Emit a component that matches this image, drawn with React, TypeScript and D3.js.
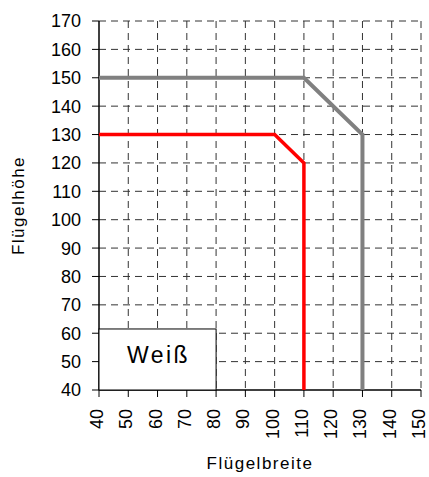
import React from "react";
import * as d3 from "d3";

const xTicks = [40, 50, 60, 70, 80, 90, 100, 110, 120, 130, 140, 150];
const yTicks = [40, 50, 60, 70, 80, 90, 100, 110, 120, 130, 140, 150, 160, 170];
const redX = [40, 100, 110, 110];
const redY = [130, 130, 120, 40];
const grayX = [40, 110, 130, 130];
const grayY = [150, 150, 130, 40];
const legendLabel = "Weiß";
const legendX = [40, 80];
const legendY = [40, 61.5];
const xTitle = "Flügelbreite";
const yTitle = "Flügelhöhe";

const W = 429;
const H = 477;
const L = 99, R = 421, T = 21, B = 390;

export default function App() {
  const x = d3.scaleLinear().domain([40, 150]).range([L, R]);
  const y = d3.scaleLinear().domain([40, 170]).range([B, T]);
  const line = d3.line<[number, number]>().x(d => x(d[0])).y(d => y(d[1]));
  const red = line(redX.map((v, i) => [v, redY[i]]) as [number, number][]) || "";
  const gray = line(grayX.map((v, i) => [v, grayY[i]]) as [number, number][]) || "";
  const font = "Arial, 'Liberation Sans', sans-serif";
  return (
    <svg width={W} height={H} style={{ position: "absolute", left: 0, top: 0, background: "#fff" }} fontFamily={font}>
      <rect x={0} y={0} width={W} height={H} fill="#fff" />
      {/* grid */}
      {xTicks.filter(t => t > 40).map(t => (
        <line key={"gx" + t} x1={x(t)} x2={x(t)} y1={T} y2={B} stroke="#333" strokeWidth={1} strokeDasharray="7,5" />
      ))}
      {yTicks.filter(t => t > 40).map(t => (
        <line key={"gy" + t} x1={L} x2={R} y1={y(t)} y2={y(t)} stroke="#333" strokeWidth={1} strokeDasharray="7,5" />
      ))}
      {/* axes */}
      <line x1={L} x2={L} y1={T} y2={B} stroke="#000" strokeWidth={1.5} />
      <line x1={L} x2={R} y1={B} y2={B} stroke="#000" strokeWidth={1.5} />
      {yTicks.map(t => (
        <g key={"ty" + t}>
          <line x1={L - 7} x2={L} y1={y(t)} y2={y(t)} stroke="#000" strokeWidth={1} />
          <text x={L - 18} y={y(t)} dy="0.36em" textAnchor="end" fontSize={18} fill="#000">{t}</text>
        </g>
      ))}
      {xTicks.map(t => (
        <g key={"tx" + t}>
          <line x1={x(t)} x2={x(t)} y1={B} y2={B + 7} stroke="#000" strokeWidth={1} />
          <text transform={`translate(${x(t)},${B + 19}) rotate(-90)`} dy="0.22em" textAnchor="end" fontSize={18} fill="#000">{t}</text>
        </g>
      ))}
      {/* legend box */}
      <rect x={x(legendX[0])} y={y(legendY[1])} width={x(legendX[1]) - x(legendX[0])} height={y(legendY[0]) - y(legendY[1])} fill="#fff" stroke="#000" strokeWidth={1} />
      <text x={(x(legendX[0]) + x(legendX[1])) / 2 + 1} y={363} textAnchor="middle" fontSize={23} letterSpacing={2.5} fill="#000">{legendLabel}</text>
      {/* series */}
      <path d={gray} fill="none" stroke="#808080" strokeWidth={4} />
      <path d={red} fill="none" stroke="#ff0000" strokeWidth={3.5} />
      {/* titles */}
      <text x={(L + R) / 2} y={469} textAnchor="middle" fontSize={17} letterSpacing={1.5} fill="#000">{xTitle}</text>
      <text transform={`translate(23.5,${(T + B) / 2}) rotate(-90)`} textAnchor="middle" fontSize={17} letterSpacing={1.5} fill="#000">{yTitle}</text>
    </svg>
  );
}
